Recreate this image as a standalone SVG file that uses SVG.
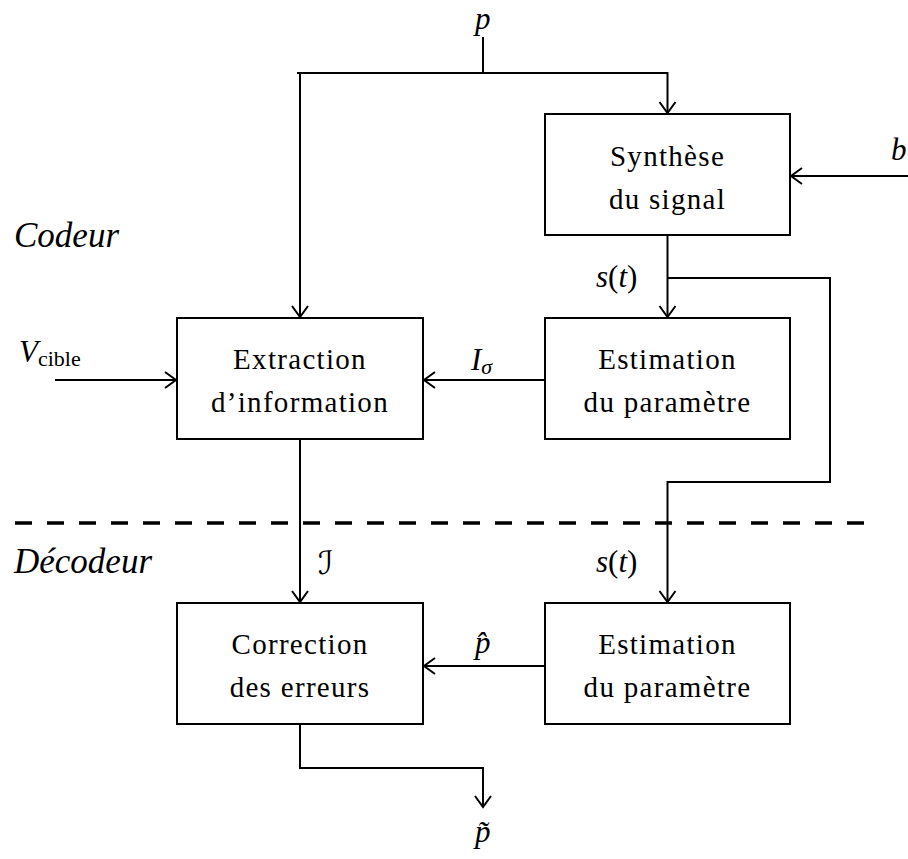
<svg xmlns="http://www.w3.org/2000/svg" width="908" height="859" viewBox="0 0 908 859">
<style>
.box{fill:#fff;stroke:#000;stroke-width:2}
.ln{fill:none;stroke:#000;stroke-width:2}
.t{font-family:"Liberation Serif",serif;font-size:29px;letter-spacing:1.3px;text-anchor:middle;fill:#000}
.m{font-family:"Liberation Serif",serif;font-size:31px;font-style:italic;fill:#000}
.u{font-style:normal}
.sec{font-family:"Liberation Serif",serif;font-size:35px;font-style:italic;fill:#000}
</style>
<defs>
<marker id="ah" markerUnits="userSpaceOnUse" markerWidth="20" markerHeight="20" viewBox="-12 -10 14 20" refX="0" refY="0" orient="auto">
<path d="M-11,-8 L0,0 L-11,8" fill="none" stroke="#000" stroke-width="2"/>
</marker>
</defs>
<rect width="908" height="859" fill="#fff"/>
<g id="connectors">
<path class="ln" d="M483,37 V73"/>
<path class="ln" d="M297,73 H667.5 V113" marker-end="url(#ah)"/>
<path class="ln" d="M300,73 V317" marker-end="url(#ah)"/>
<path class="ln" d="M908,176 H791" marker-end="url(#ah)"/>
<path class="ln" d="M55,380 H176" marker-end="url(#ah)"/>
<path class="ln" d="M545,380 H424" marker-end="url(#ah)"/>
<path class="ln" d="M667.5,235 V317" marker-end="url(#ah)"/>
<path class="ln" d="M667.5,278 H830 V482 H667.5 V602" marker-end="url(#ah)"/>
<path class="ln" d="M300,439 V602" marker-end="url(#ah)"/>
<path class="ln" d="M545,666 H424" marker-end="url(#ah)"/>
<path class="ln" d="M300,724 V768 H483 V807" marker-end="url(#ah)"/>
<path d="M15,523 H875" fill="none" stroke="#000" stroke-width="3.5" stroke-dasharray="17 15"/>
</g>
<g id="synthese">
<rect class="box" x="545" y="114" width="245" height="121"/>
<text class="t" x="667.5" y="166">Synthèse</text>
<text class="t" x="667.5" y="209">du signal</text>
</g>
<g id="extraction">
<rect class="box" x="177" y="318" width="246" height="121"/>
<text class="t" x="300" y="369">Extraction</text>
<text class="t" x="300" y="412">d’information</text>
</g>
<g id="estimation1">
<rect class="box" x="545" y="318" width="245" height="121"/>
<text class="t" x="667.5" y="369">Estimation</text>
<text class="t" x="667.5" y="412">du paramètre</text>
</g>
<g id="correction">
<rect class="box" x="177" y="603" width="246" height="121"/>
<text class="t" x="300" y="654">Correction</text>
<text class="t" x="300" y="697">des erreurs</text>
</g>
<g id="estimation2">
<rect class="box" x="545" y="603" width="245" height="121"/>
<text class="t" x="667.5" y="654">Estimation</text>
<text class="t" x="667.5" y="697">du paramètre</text>
</g>
<g id="labels">
<text class="m" x="475" y="29" font-size="28">p</text>
<text class="m" x="891" y="160">b</text>
<text class="m" x="19" y="362">V<tspan class="u" font-size="22" dy="4">cible</tspan></text>
<text class="m" x="471" y="370">I<tspan font-size="22" dy="4">σ</tspan></text>
<text class="m" x="596" y="287">s<tspan class="u">(</tspan>t<tspan class="u">)</tspan></text>
<text class="m" x="596" y="572">s<tspan class="u">(</tspan>t<tspan class="u">)</tspan></text>
<text x="318" y="574" font-family="DejaVu Serif, DejaVu Sans, serif" font-size="32" font-style="italic">ℐ</text>
<text class="m" x="475" y="653">p̂</text>
<text class="m" x="475" y="842">p̃</text>
<text class="sec" x="14" y="247">Codeur</text>
<text class="sec" x="14" y="573">Décodeur</text>
</g>
</svg>
